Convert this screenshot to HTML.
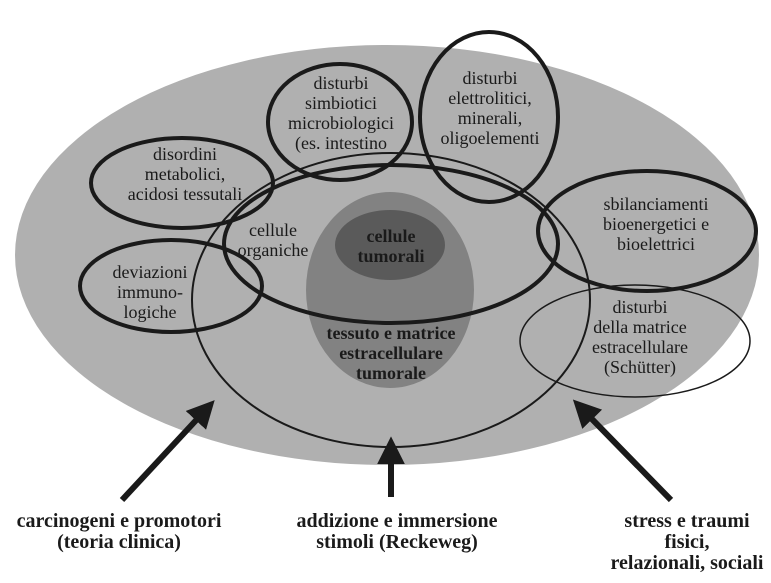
<!DOCTYPE html>
<html><head><meta charset="utf-8"><style>
body{margin:0;background:#fff}
svg{display:block}
text{font-family:"Liberation Serif",serif;fill:#1a1a1a}
.n{font-size:18px}
.b{font-size:18px;font-weight:bold}
.c{font-size:20px;font-weight:bold}
</style></head><body>
<svg width="771" height="583" viewBox="0 0 771 583">
<defs><marker id="ah" markerWidth="4.6" markerHeight="4.6" refX="1" refY="2.3" orient="auto" markerUnits="strokeWidth"><path d="M0,0 L4.6,2.3 L0,4.6 Z" fill="#1a1a1a"/></marker></defs>
<ellipse cx="387" cy="255" rx="372" ry="210" fill="#b0b0b0"/>
<ellipse cx="391" cy="300" rx="199" ry="147" fill="none" stroke="#1a1a1a" stroke-width="2"/>
<ellipse cx="390" cy="290" rx="84" ry="98" fill="#828282"/>
<ellipse cx="390" cy="245" rx="55" ry="35" fill="#5a5a5a"/>
<ellipse cx="391" cy="244" rx="167" ry="79" fill="none" stroke="#1a1a1a" stroke-width="4"/>
<ellipse cx="340" cy="122" rx="72" ry="58" fill="none" stroke="#1a1a1a" stroke-width="4"/>
<ellipse cx="489" cy="117" rx="69" ry="85" fill="none" stroke="#1a1a1a" stroke-width="4"/>
<ellipse cx="182" cy="183" rx="91" ry="45" fill="none" stroke="#1a1a1a" stroke-width="4"/>
<ellipse cx="171" cy="286" rx="91" ry="46" fill="none" stroke="#1a1a1a" stroke-width="4"/>
<ellipse cx="647" cy="231" rx="109" ry="60" fill="none" stroke="#1a1a1a" stroke-width="4"/>
<ellipse cx="635" cy="341" rx="115" ry="56" fill="none" stroke="#1a1a1a" stroke-width="1.5"/>
<g stroke="#1a1a1a" stroke-width="6" marker-end="url(#ah)">
<line x1="122" y1="500" x2="200" y2="416"/>
<line x1="391" y1="497" x2="391" y2="458"/>
<line x1="671" y1="500" x2="588" y2="415"/>
</g>
<g class="n" text-anchor="middle">
<text x="341" y="89">disturbi</text><text x="341" y="109">simbiotici</text><text x="341" y="129">microbiologici</text><text x="341" y="149">(es. intestino</text>
<text x="490" y="84">disturbi</text><text x="490" y="104">elettrolitici,</text><text x="490" y="124">minerali,</text><text x="490" y="144">oligoelementi</text>
<text x="185" y="160">disordini</text><text x="185" y="180">metabolici,</text><text x="185" y="200">acidosi tessutali</text>
<text x="150" y="278">deviazioni</text><text x="150" y="298">immuno-</text><text x="150" y="318">logiche</text>
<text x="656" y="210">sbilanciamenti</text><text x="656" y="230">bioenergetici e</text><text x="656" y="250">bioelettrici</text>
<text x="640" y="313">disturbi</text><text x="640" y="333">della matrice</text><text x="640" y="353">estracellulare</text><text x="640" y="373">(Schütter)</text>
<text x="273" y="236">cellule</text><text x="273" y="256">organiche</text>
</g>
<g class="b" text-anchor="middle">
<text x="391" y="242">cellule</text><text x="391" y="262">tumorali</text>
<text x="391" y="339">tessuto e matrice</text><text x="391" y="359">estracellulare</text><text x="391" y="379">tumorale</text>
</g>
<g class="c" text-anchor="middle">
<text x="119" y="527">carcinogeni e promotori</text><text x="119" y="548">(teoria clinica)</text>
<text x="397" y="527">addizione e immersione</text><text x="397" y="548">stimoli (Reckeweg)</text>
<text x="687" y="527">stress e traumi</text><text x="687" y="548">fisici,</text><text x="687" y="569">relazionali, sociali</text>
</g>
</svg>
</body></html>
